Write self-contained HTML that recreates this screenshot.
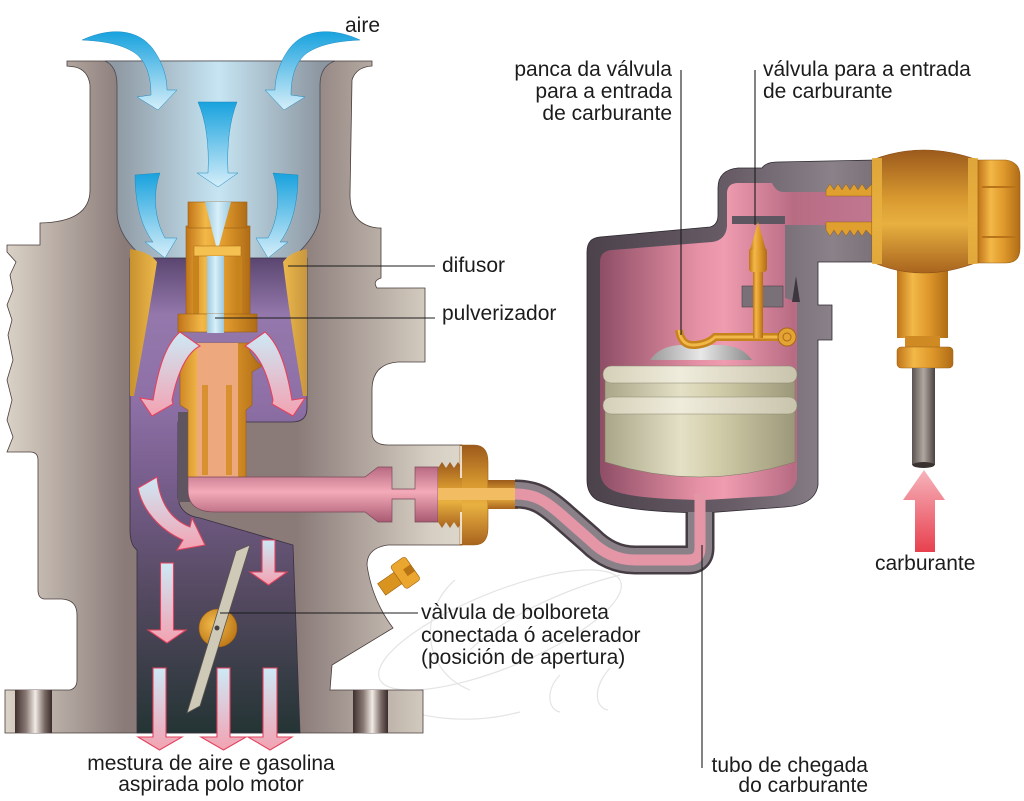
<!DOCTYPE html>
<html><head><meta charset="utf-8"><style>
html,body{margin:0;padding:0;background:#fff;}
svg{display:block;}
text{font-family:"Liberation Sans",sans-serif;font-size:21px;fill:#1c1c1c;}
</style></head><body>
<svg width="1024" height="801" viewBox="0 0 1024 801" xmlns="http://www.w3.org/2000/svg">
<defs>
<linearGradient id="body" gradientUnits="userSpaceOnUse" x1="5" y1="0" x2="462" y2="0">
<stop offset="0" stop-color="#dbd3c7"/><stop offset="0.26" stop-color="#8a7b79"/><stop offset="0.64" stop-color="#8a7b79"/><stop offset="0.93" stop-color="#d6cec2"/><stop offset="1" stop-color="#ddd7cb"/></linearGradient>
<linearGradient id="bowl" gradientUnits="userSpaceOnUse" x1="117" y1="0" x2="320" y2="0">
<stop offset="0" stop-color="#8f9aa4"/><stop offset="0.5" stop-color="#c6e5f3"/><stop offset="1" stop-color="#8d97a1"/></linearGradient>
<linearGradient id="purp" gradientUnits="userSpaceOnUse" x1="0" y1="258" x2="0" y2="733">
<stop offset="0" stop-color="#5a4670"/><stop offset="0.12" stop-color="#9478ac"/><stop offset="0.3" stop-color="#8e70a6"/><stop offset="0.45" stop-color="#7a6090"/><stop offset="0.7" stop-color="#564a62"/><stop offset="1" stop-color="#243434"/></linearGradient>
<linearGradient id="blue" x1="0" y1="0" x2="0" y2="1"><stop offset="0" stop-color="#18a2de"/><stop offset="1" stop-color="#d6eef9"/></linearGradient>
<linearGradient id="pa" x1="0" y1="0" x2="0" y2="1"><stop offset="0" stop-color="#cde9f6"/><stop offset="1" stop-color="#f3a2b2"/></linearGradient>
<linearGradient id="gh" x1="0" y1="0" x2="1" y2="0"><stop offset="0" stop-color="#c07418"/><stop offset="0.3" stop-color="#f2b848"/><stop offset="0.6" stop-color="#e09a2c"/><stop offset="1" stop-color="#b06c16"/></linearGradient>
<linearGradient id="gv" x1="0" y1="0" x2="0" y2="1"><stop offset="0" stop-color="#9c5a1c"/><stop offset="0.4" stop-color="#d89a30"/><stop offset="0.6" stop-color="#e8b040"/><stop offset="1" stop-color="#a8641e"/></linearGradient>
<linearGradient id="difL" x1="0" y1="0" x2="1" y2="0"><stop offset="0" stop-color="#c8922e"/><stop offset="1" stop-color="#ebb84c"/></linearGradient>
<linearGradient id="difR" x1="0" y1="0" x2="1" y2="0"><stop offset="0" stop-color="#ebb84c"/><stop offset="1" stop-color="#c8963e"/></linearGradient>
<linearGradient id="ptube" x1="0" y1="0" x2="0" y2="1"><stop offset="0" stop-color="#b86a82"/><stop offset="0.45" stop-color="#f4aab8"/><stop offset="1" stop-color="#a85a72"/></linearGradient>
<linearGradient id="chOut" gradientUnits="userSpaceOnUse" x1="587" y1="0" x2="876" y2="0"><stop offset="0" stop-color="#4c424c"/><stop offset="0.5" stop-color="#685d67"/><stop offset="0.85" stop-color="#8a8189"/><stop offset="1" stop-color="#7a7078"/></linearGradient>
<linearGradient id="chPink" gradientUnits="userSpaceOnUse" x1="600" y1="0" x2="876" y2="0"><stop offset="0" stop-color="#8e4e66"/><stop offset="0.35" stop-color="#e590a4"/><stop offset="0.45" stop-color="#f09cb0"/><stop offset="0.7" stop-color="#b86c84"/><stop offset="1" stop-color="#c07890"/></linearGradient>
<linearGradient id="flt" gradientUnits="userSpaceOnUse" x1="603" y1="0" x2="797" y2="0"><stop offset="0" stop-color="#a8a486"/><stop offset="0.4" stop-color="#e4e0c6"/><stop offset="0.6" stop-color="#d0cca8"/><stop offset="1" stop-color="#9a9678"/></linearGradient>
<linearGradient id="ring" gradientUnits="userSpaceOnUse" x1="603" y1="0" x2="797" y2="0"><stop offset="0" stop-color="#d4d0b8"/><stop offset="0.4" stop-color="#f0ecdc"/><stop offset="1" stop-color="#c8c4ac"/></linearGradient>
<linearGradient id="dome" x1="0" y1="0" x2="1" y2="0"><stop offset="0" stop-color="#9a9a9a"/><stop offset="0.5" stop-color="#e8e8e8"/><stop offset="1" stop-color="#8a8a8a"/></linearGradient>
<linearGradient id="tube" x1="0" y1="0" x2="1" y2="0"><stop offset="0" stop-color="#5a5250"/><stop offset="0.5" stop-color="#b0a8a0"/><stop offset="1" stop-color="#4a4240"/></linearGradient>
<linearGradient id="red" x1="0" y1="0" x2="0" y2="1"><stop offset="0" stop-color="#f6b4bc"/><stop offset="1" stop-color="#e8404e"/></linearGradient>
<linearGradient id="bolt" x1="0" y1="0" x2="1" y2="0"><stop offset="0" stop-color="#3e302e"/><stop offset="0.3" stop-color="#8a7a76"/><stop offset="0.55" stop-color="#f2ebe5"/><stop offset="0.8" stop-color="#7a6a66"/><stop offset="1" stop-color="#3a2c2a"/></linearGradient>
<linearGradient id="lb" x1="0" y1="0" x2="1" y2="0"><stop offset="0" stop-color="#9cc8dc"/><stop offset="0.5" stop-color="#d8f0fa"/><stop offset="1" stop-color="#9cc8dc"/></linearGradient>
<radialGradient id="gc" cx="0.4" cy="0.4" r="0.6"><stop offset="0" stop-color="#f4bc4c"/><stop offset="1" stop-color="#c07c1a"/></radialGradient>
</defs>

<!-- watermark -->
<g fill="none" stroke="#c4c4c4" stroke-width="1.2" opacity="0.45">
<ellipse cx="500" cy="630" rx="130" ry="38" transform="rotate(-22 500 630)"/>
<path d="M455,580 C420,610 420,670 470,690"/>
<path d="M560,675 C545,690 548,710 560,712"/>
<path d="M610,668 C592,688 595,708 608,710"/>
<path d="M470,650 C500,620 560,590 620,575"/>
<path d="M380,700 C420,720 470,725 520,712"/>
</g>

<!-- left body -->
<path d="M67,61 L372,61 L372,66 Q356,67 352,80 L350,195 Q350,225 378,228 L381,228 L381,278 Q372,281 377,288 L425,288 L425,362 L398,362 Q372,364 372,390 L372,432 Q372,445 388,445 L462,445 L462,545 L388,545 Q367,548 367,565 Q372,600 393,628 Q360,648 332,665 L330,690 L423,690 L423,733 L5,733 L5,690 L70,690 Q77,688 77,680 L77,615 Q77,600 62,599 L44,599 Q38,598 38,590 L38,460 Q38,452 30,452 L7,452 L13,437 L7,420 L12,400 L7,380 L13,360 L8,335 L12,320 L7,305 L13,290 L10,275 L16,262 L7,252 L7,245 L40,245 L40,223 Q90,222 90,190 L90,85 Q88,70 75,67 L67,66 Z" fill="url(#body)" stroke="#4a3e3c" stroke-width="0.8"/>

<!-- bowl -->
<path d="M105,61 L335,61 Q320,66 320,85 L320,212 Q319,238 287,262 L150,262 Q118,240 117,212 L117,85 Q117,66 105,61 Z" fill="url(#bowl)" stroke="#4a4a50" stroke-width="0.8"/>

<!-- purple passage -->
<path d="M130,258 L307,258 L307,408 Q307,422 292,422 L178,422 L178,498 Q180,515 200,518 L293,545 L300,733 L137,733 L137,550 Q130,545 130,530 Z" fill="url(#purp)" stroke="#3a3040" stroke-width="0.8"/>

<!-- difusors -->
<path d="M130,249 Q150,252 157,262 Q148,320 134,396 L130,396 Z" fill="url(#difL)"/>
<path d="M307,249 L307,396 L303,396 Q290,320 283,262 Q290,252 307,249 Z" fill="url(#difR)"/>

<!-- dark strip -->
<rect x="178" y="412" width="12" height="90" fill="#5e5560"/>

<!-- pulverizer upper -->
<rect x="186" y="226" width="64" height="90" fill="url(#gh)" stroke="#9a5e14" stroke-width="0.6"/>
<rect x="188" y="202" width="59" height="26" fill="url(#gh)" stroke="#9a5e14" stroke-width="0.6"/>
<polygon points="205,202 231,202 219,246 216,246" fill="url(#lb)"/>
<rect x="193" y="256" width="6" height="60" fill="#c8841c"/>
<rect x="236" y="256" width="6" height="60" fill="#c8841c"/>
<rect x="194" y="246" width="47" height="10" fill="#f4c050" stroke="#b07018" stroke-width="0.6"/>
<rect x="207" y="256" width="17" height="77" fill="url(#lb)"/>
<rect x="178" y="314" width="79" height="18" fill="url(#gh)" stroke="#9a5e14" stroke-width="0.6"/>
<rect x="207" y="314" width="17" height="19" fill="url(#lb)"/>

<!-- pulverizer lower -->
<path d="M188,343 L248,343 L250,352 Q256,362 262,366 L252,372 L252,405 L246,410 L246,478 L188,478 L188,410 L180,405 L180,372 L172,366 Q180,360 186,352 Z" fill="url(#gh)" stroke="#9a5e14" stroke-width="0.6"/>
<rect x="197" y="343" width="41" height="135" fill="#eea87e"/>
<rect x="202" y="385" width="6" height="90" fill="#d89030"/>
<rect x="226" y="385" width="6" height="90" fill="#d89030"/>

<!-- pink horizontal tube -->
<path d="M188,477 L365,477 L378,467 L392,467 L392,489 L415,489 L415,467 L438,467 L438,522 L415,522 L415,499 L392,499 L392,522 L378,522 L365,512 L215,512 Q188,512 188,490 Z" fill="url(#ptube)" stroke="#7a4a5a" stroke-width="0.7"/>

<!-- nut -->
<path d="M460,445 L474,445 Q488,445 488,462 L488,528 Q488,545 474,545 L460,545 Z" fill="url(#gv)" stroke="#9a5e14" stroke-width="0.6"/>
<path d="M438,468 L442,462 L446,468 L450,462 L454,468 L458,462 L462,468 L462,522 L458,528 L454,522 L450,528 L446,522 L442,528 L438,522 Z" fill="url(#gv)"/>
<rect x="488" y="480" width="30" height="29" fill="url(#gv)"/>
<rect x="438" y="488" width="80" height="12" fill="#f2bc62"/>
<line x1="461" y1="446" x2="461" y2="478" stroke="#fff" stroke-width="1.5"/>
<line x1="461" y1="512" x2="461" y2="544" stroke="#fff" stroke-width="1.5"/>

<!-- screw -->
<g transform="translate(398,578) rotate(-35)">
<rect x="-20" y="-7" width="20" height="14" fill="#d8941e" stroke="#a06010" stroke-width="0.6"/>
<rect x="0" y="-14" width="18" height="28" rx="3" fill="#eaa62e" stroke="#a06010" stroke-width="0.6"/>
<rect x="9" y="-4" width="9" height="8" fill="#b87414"/>
</g>

<!-- bolts -->
<rect x="15" y="690" width="37" height="43" fill="url(#bolt)"/>
<rect x="353" y="690" width="35" height="43" fill="url(#bolt)"/>

<!-- blue arrows -->
<path d="M82,40 C110,27 140,28 155,52 C163,64 167,78 167,90 L177,90 L158,110 L137,97 L151,95 C151,78 147,62 135,53 C120,43 100,41 82,40 Z" fill="url(#blue)" stroke="#1a8ac0" stroke-width="0.5"/>
<path transform="translate(442,0) scale(-1,1)" d="M82,40 C110,27 140,28 155,52 C163,64 167,78 167,90 L177,90 L158,110 L137,97 L151,95 C151,78 147,62 135,53 C120,43 100,41 82,40 Z" fill="url(#blue)" stroke="#1a8ac0" stroke-width="0.5"/>
<path d="M198,102 L237,102 Q226,130 228,173 L238,173 L218,187 L197,173 L208,173 Q210,130 198,102 Z" fill="url(#blue)" stroke="#1a8ac0" stroke-width="0.5"/>
<path d="M135,175 L160,173 C152,195 155,220 165,238 L177,238 L165,258 L145,242 L153,242 C140,225 135,200 135,175 Z" fill="url(#blue)" stroke="#1a8ac0" stroke-width="0.5"/>
<path transform="translate(433,0) scale(-1,1)" d="M135,175 L160,173 C152,195 155,220 165,238 L177,238 L165,258 L145,242 L153,242 C140,225 135,200 135,175 Z" fill="url(#blue)" stroke="#1a8ac0" stroke-width="0.5"/>

<!-- pink arrows -->
<g fill="url(#pa)" stroke="#e3425e" stroke-width="1.1">
<path d="M180,332 L200,346 C188,352 178,370 172,400 L173,404 L152,416 L140,398 L153,400 C158,370 165,345 180,332 Z"/>
<path transform="translate(445,0) scale(-1,1)" d="M180,332 L200,346 C188,352 178,370 172,400 L173,404 L152,416 L140,398 L153,400 C158,370 165,345 180,332 Z"/>
<path d="M138,488 L157,477 C160,505 172,520 190,527 L192,518 L205,545 L177,550 L183,540 C160,530 142,510 138,488 Z"/>
<path d="M160.5,563 L173.5,563 L173.5,630 L186,630 L167,643 L148,630 L160.5,630 Z"/>
<path d="M262,540 L275,540 L275,572 L287,572 L268.5,585 L250,572 L262,572 Z"/>
<path d="M153,668 L166,668 L166,737 L182,737 L159.5,750 L138,737 L153,737 Z"/>
<path d="M217,668 L230,668 L230,737 L246,737 L223.5,750 L201,737 L217,737 Z"/>
<path d="M263,668 L277,668 L277,737 L292,737 L270,750 L248,737 L263,737 Z"/>
</g>

<!-- butterfly valve -->
<circle cx="218" cy="628" r="19" fill="url(#gc)" stroke="#a06010" stroke-width="0.6"/>
<polygon points="236,551 250,545 200,706 187,713" fill="#cfc9b8" stroke="#5a5550" stroke-width="0.8"/>
<circle cx="217" cy="628" r="2.5" fill="#444"/>

<!-- chamber -->
<path d="M587,252 Q587,238 600,237 L710,227 Q718,225 718,215 L718,188 Q718,170 738,168 L762,168 Q766,162 778,162 L876,160 L876,262 L818,262 L818,305 L832,305 L832,340 L818,340 L818,485 Q815,505 785,507 L705,513 Q625,512 597,500 Q587,494 587,480 Z" fill="url(#chOut)" stroke="#2e2a30" stroke-width="0.8"/>
<path d="M600,262 Q600,251 612,250 L712,242 Q726,240 727,226 L727,192 Q728,183 738,183 L772,183 Q776,192 784,192 L876,192 L876,225 L785,225 L785,298 L797,302 L797,478 Q795,494 772,496 L705,500 Q630,499 612,490 Q600,484 600,470 Z" fill="url(#chPink)"/>
<rect x="732" y="216" width="53" height="8" fill="#5e5660"/>
<rect x="742" y="286" width="41" height="21" fill="#7a7078" stroke="#4a4048" stroke-width="0.6"/>
<polygon points="792,302 796,276 800,302" fill="#3e363e"/>

<!-- threads -->
<path d="M826,196 L826,190 L830,184 L834,190 L838,184 L842,190 L846,184 L850,190 L854,184 L858,190 L862,184 L866,190 L872,184 L872,196 Z" fill="#e0a030" stroke="#9a5e14" stroke-width="0.5"/>
<path d="M826,222 L872,222 L872,236 L866,230 L862,236 L858,230 L854,236 L850,230 L846,236 L842,230 L838,236 L834,230 L830,236 L826,230 Z" fill="#e0a030" stroke="#9a5e14" stroke-width="0.5"/>

<!-- float -->
<path d="M650,360 Q660,346 680,345 L722,345 Q742,346 752,360 Z" fill="url(#dome)"/>
<path d="M605,372 L795,372 L795,462 Q700,492 605,462 Z" fill="url(#flt)" stroke="#7a7660" stroke-width="0.5"/>
<rect x="603" y="366" width="194" height="17" rx="8" fill="url(#ring)" stroke="#8a8670" stroke-width="0.5"/>
<rect x="603" y="397" width="194" height="17" rx="8" fill="url(#ring)" stroke="#8a8670" stroke-width="0.5"/>

<!-- lever & needle -->
<path d="M679,330 Q681,346 695,345 Q708,344 715,337 L782,337" fill="none" stroke="#c8841c" stroke-width="8"/>
<path d="M679,330 Q681,346 695,345 Q708,344 715,337 L782,337" fill="none" stroke="#f0b848" stroke-width="3"/>
<rect x="753" y="262" width="10" height="76" fill="url(#gh)"/>
<rect x="749" y="248" width="18" height="24" rx="3" fill="url(#gh)"/>
<polygon points="750,250 766,250 758,222" fill="url(#gh)"/>
<circle cx="787" cy="337" r="9" fill="#e4a434" stroke="#a86814" stroke-width="1"/>
<circle cx="787" cy="337" r="4" fill="none" stroke="#a86814" stroke-width="1"/>

<!-- pipe -->
<path d="M515,494 C535,494 545,500 565,518 L590,540 Q610,560 635,560 L688,560 Q700,560 700,548 L700,512" fill="none" stroke="#463c44" stroke-width="29"/>
<path d="M515,494 C535,494 545,500 565,518 L590,540 Q610,560 635,560 L688,560 Q700,560 700,548 L700,512" fill="none" stroke="#8a8088" stroke-width="24"/>
<path d="M515,494 C535,494 545,500 565,518 L590,540 Q610,560 635,560 L688,560 Q700,560 700,548 L700,494" fill="none" stroke="#e596a6" stroke-width="11"/>

<!-- fitting -->
<rect x="897" y="266" width="51" height="72" fill="url(#gh)"/>
<rect x="905" y="336" width="35" height="12" fill="#d08a24"/>
<rect x="897" y="347" width="56" height="21" rx="4" fill="url(#gh)" stroke="#9a5e14" stroke-width="0.5"/>
<rect x="912" y="368" width="23" height="97" fill="url(#tube)"/>
<ellipse cx="923.5" cy="465" rx="11" ry="3" fill="#3a3230"/>
<path d="M872,160 Q922,140 978,160 L978,262 Q922,284 872,262 Z" fill="url(#gv)" stroke="#8a4e14" stroke-width="0.6"/>
<rect x="872" y="158" width="10" height="106" fill="#e8b040" opacity="0.85"/>
<rect x="968" y="158" width="10" height="106" fill="#e8b040" opacity="0.85"/>
<path d="M978,160 L1006,160 Q1020,162 1020,176 L1020,248 Q1020,263 1006,263 L978,263 Z" fill="url(#gh)" stroke="#9a5e14" stroke-width="0.6"/>
<line x1="982" y1="187" x2="1018" y2="187" stroke="#b87418" stroke-width="2"/>
<line x1="982" y1="237" x2="1018" y2="237" stroke="#b87418" stroke-width="2"/>

<!-- red arrow -->
<path d="M915,552 L935,552 L935,500 L945,500 L924,470 L903,500 L915,500 Z" fill="url(#red)"/>

<!-- leader lines -->
<g stroke="#1c1c1c" stroke-width="1.1">
<line x1="288" y1="266" x2="435" y2="266"/>
<line x1="215" y1="318" x2="435" y2="318"/>
<line x1="681" y1="70" x2="681" y2="335"/>
<line x1="755" y1="70" x2="755" y2="225"/>
<line x1="220" y1="613" x2="418" y2="613"/>
<line x1="702" y1="545" x2="702" y2="768"/>
</g>

<!-- text -->
<text x="345" y="32">aire</text>
<text x="442" y="272">difusor</text>
<text x="442" y="320">pulverizador</text>
<text x="672" y="76" text-anchor="end">panca da válvula</text>
<text x="672" y="98" text-anchor="end">para a entrada</text>
<text x="672" y="120" text-anchor="end">de carburante</text>
<text x="763" y="76">válvula para a entrada</text>
<text x="763" y="98">de carburante</text>
<text x="421" y="619">vàlvula de bolboreta</text>
<text x="421" y="642">conectada ó acelerador</text>
<text x="421" y="664">(posición de apertura)</text>
<text x="211" y="770" text-anchor="middle">mestura de aire e gasolina</text>
<text x="211" y="791" text-anchor="middle">aspirada polo motor</text>
<text x="868" y="772" text-anchor="end">tubo de chegada</text>
<text x="868" y="792" text-anchor="end">do carburante</text>
<text x="875" y="570">carburante</text>
</svg>
</body></html>
